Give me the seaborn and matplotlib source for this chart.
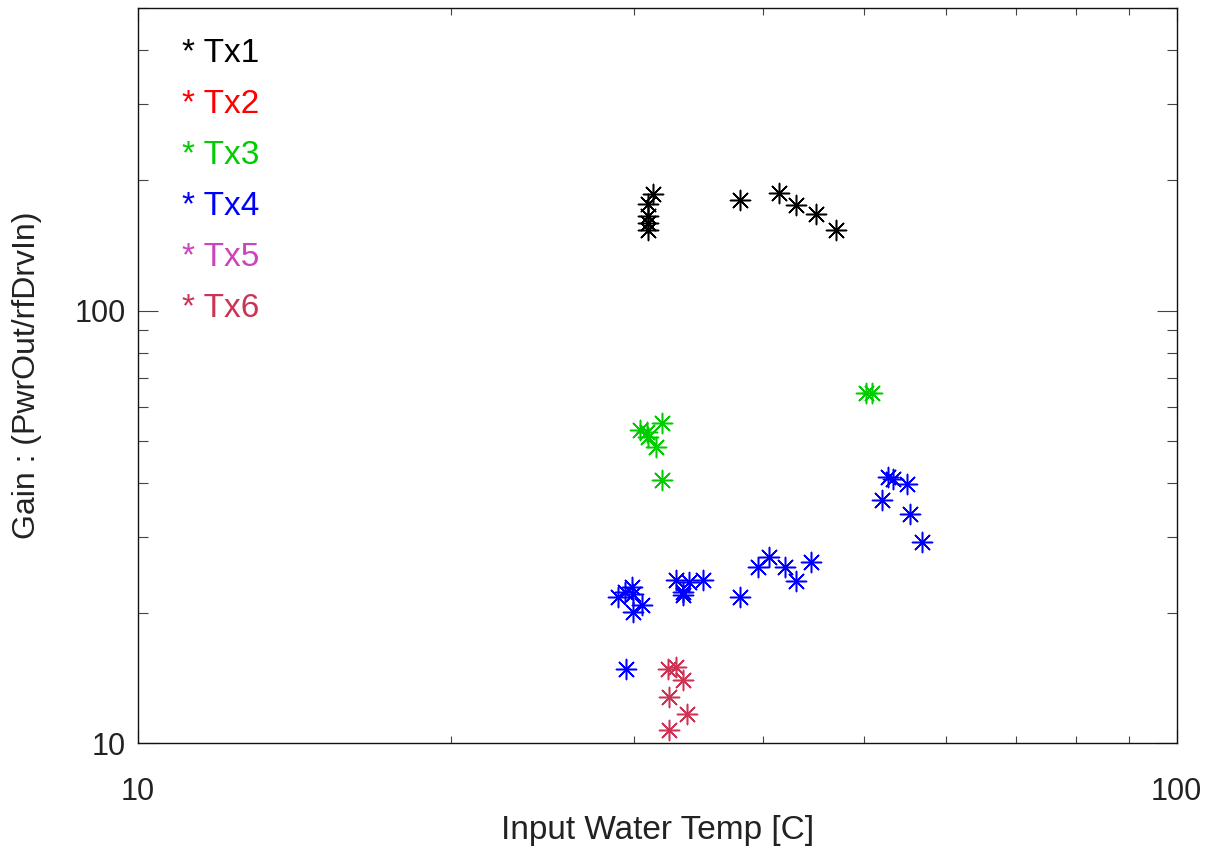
import numpy as np
import pandas as pd
import matplotlib
matplotlib.use("Agg")
import matplotlib.pyplot as plt
import matplotlib.ticker as mticker
import seaborn as sns

# ──────────────────────────────────────────────
# DATA
# ──────────────────────────────────────────────

tx_names  = ["Tx1", "Tx2", "Tx3", "Tx4", "Tx5", "Tx6"]
tx_colors = ["#000000", "#ff0000", "#00cc00", "#0000ff", "#cc44bb", "#cc3355"]

tx1_temp = [31.0, 31.35, 31.0, 31.0, 31.0, 38.0, 41.4, 43.0, 44.95, 47.0]
tx1_gain = [176.6, 185.6, 165.1, 159.3, 153.9, 180.4, 186.9, 175.7, 167.5, 153.9]

tx2_temp = []
tx2_gain = []

tx3_temp = [50.2, 50.9, 30.43, 30.9, 31.0, 31.93, 31.53, 31.93]
tx3_gain = [64.5, 64.5, 52.9, 52.4, 51.05, 55.0, 48.4, 40.7]

tx4_temp = [29.0, 29.43, 29.87, 29.97, 30.54, 29.97, 32.96, 33.94, 35.0, 33.5,
            33.5, 37.98, 39.5, 40.5, 41.96, 42.97, 44.45, 29.48,
            52.77, 53.37, 54.95, 51.99, 55.36, 56.8]
tx4_gain = [21.81, 22.4, 23.0, 22.2, 20.87, 20.14, 23.92, 23.6, 23.92, 22.4,
            22.0, 21.74, 25.57, 26.9, 25.57, 23.7, 26.27, 14.9,
            41.27, 40.93, 39.86, 36.48, 33.98, 29.2]

tx5_temp = []
tx5_gain = []

tx6_temp = [32.4, 32.96, 33.5, 32.48, 33.75, 32.48]
tx6_gain = [14.9, 15.03, 14.05, 12.81, 11.68, 10.77]

series = [
    (tx1_temp, tx1_gain), (tx2_temp, tx2_gain), (tx3_temp, tx3_gain),
    (tx4_temp, tx4_gain), (tx5_temp, tx5_gain), (tx6_temp, tx6_gain),
]

# ──────────────────────────────────────────────
# PLOT
# ──────────────────────────────────────────────

sns.set_theme(style="white")
plt.rcParams["font.family"] = ["Liberation Sans", "DejaVu Sans"]
text_col = "#222222"

fig = plt.figure(figsize=(12.18, 8.61), dpi=100)
ax = fig.add_axes([0.1133, 0.1365, 0.8528, 0.8542])

asterisk = (8, 2, 0)
for name, col, (temp, gain) in zip(tx_names, tx_colors, series):
    if len(temp) == 0:
        continue
    df = pd.DataFrame({"temp": temp, "gain": gain})
    sns.scatterplot(data=df, x="temp", y="gain", ax=ax, marker=asterisk,
                    s=210, color=col, edgecolor=col, linewidth=1.1)

ax.set_xscale("log")
ax.set_yscale("log")
ax.set_xlim(10, 100)
ax.set_ylim(10, 500)

fmt = mticker.FuncFormatter(lambda v, p: f"{v:g}")
for axis in (ax.xaxis, ax.yaxis):
    axis.set_major_locator(mticker.LogLocator(base=10))
    axis.set_minor_locator(mticker.LogLocator(base=10, subs=np.arange(2, 10)))
    axis.set_major_formatter(fmt)
    axis.set_minor_formatter(mticker.NullFormatter())

ax.tick_params(axis="x", which="major", direction="in", length=10, width=0.8,
               top=True, bottom=True, color="#444444", labelsize=22,
               labelcolor=text_col, pad=24)
ax.tick_params(axis="x", which="minor", direction="in", length=4.7, width=0.8,
               top=True, bottom=True, color="#444444")
ax.tick_params(axis="y", which="major", direction="in", length=14.4, width=0.8,
               left=True, right=True, color="#444444", labelsize=22,
               labelcolor=text_col, pad=9)
ax.tick_params(axis="y", which="minor", direction="in", length=7.2, width=0.8,
               left=True, right=True, color="#444444")

for sp in ax.spines.values():
    sp.set_color("#111111")
    sp.set_linewidth(1.0)

ax.set_xlabel("Input Water Temp [C]", fontsize=24, color=text_col)
ax.set_ylabel("Gain : (PwrOut/rfDrvIn)", fontsize=23, color=text_col)
ax.xaxis.set_label_coords(0.5, -0.097)
ax.yaxis.set_label_coords(-0.092, 0.5)

# text legend in the upper left corner
for i, (name, col) in enumerate(zip(tx_names, tx_colors)):
    ax.text(0.0424, 0.9266 - i * 0.0694, f"* {name}", transform=ax.transAxes,
            color=col, fontsize=24, ha="left", va="baseline")

plt.savefig("out.png", dpi=100)
